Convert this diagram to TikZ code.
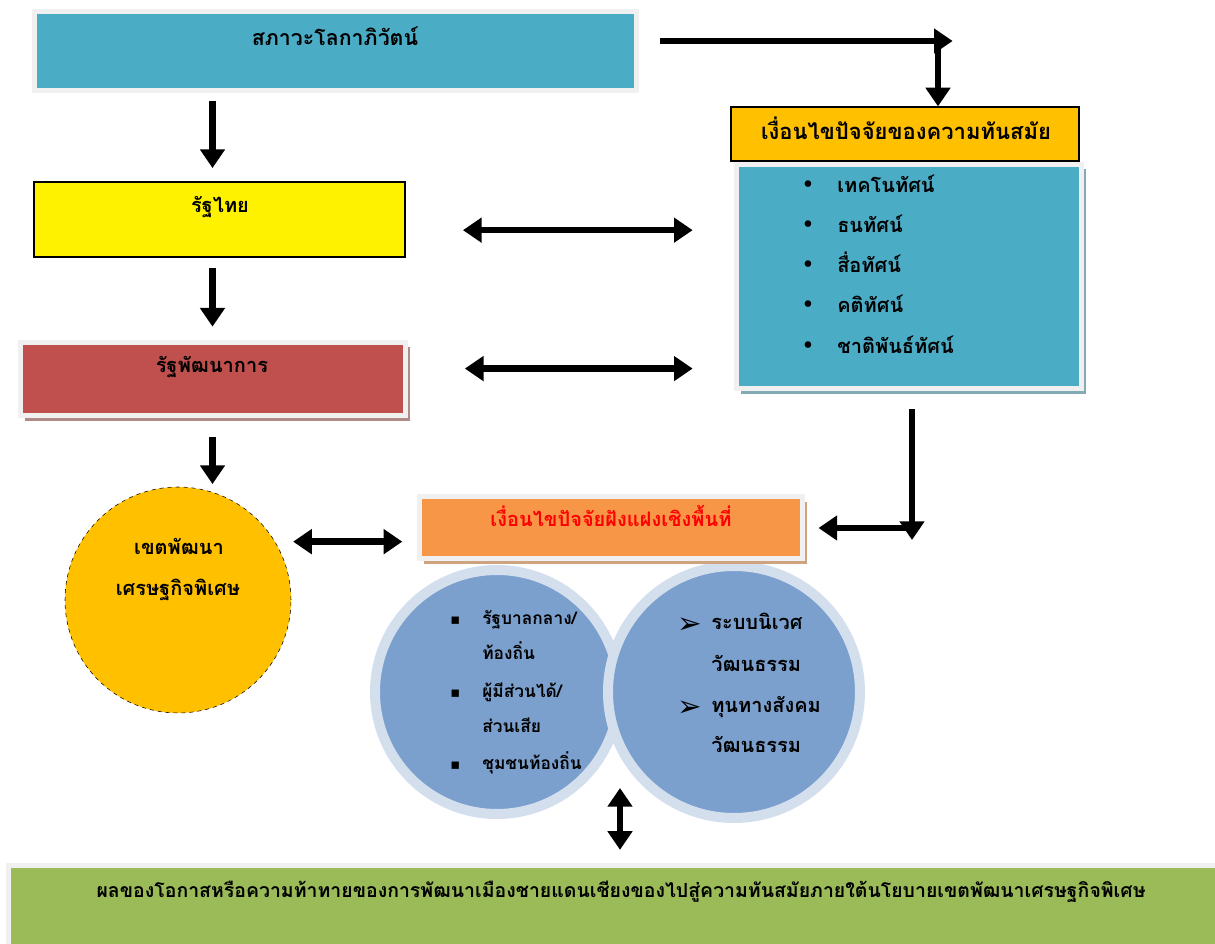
\documentclass[tikz,border=0pt]{standalone}
\usepackage{fontspec}
\setmainfont[Script=Thai]{Loma}
\newfontfamily\symfont{DejaVu Sans}
\usetikzlibrary{arrows.meta, fit, shadows}

\definecolor{skyblue}{HTML}{4BACC6}
\definecolor{gold}{HTML}{FFC000}
\definecolor{brick}{HTML}{C0504D}
\definecolor{tangerine}{HTML}{F79646}
\definecolor{olive}{HTML}{9BBB59}
\definecolor{framegray}{HTML}{F0F0F0}
\definecolor{circblue}{HTML}{7BA0CE}
\definecolor{ringblue}{HTML}{D4DFEE}

\begin{document}
\begin{tikzpicture}[x=0.75pt, y=-0.75pt,
    box/.style={rectangle, inner sep=0pt},
    frame/.style={box, draw=framegray, line width=3.75pt},
    lined/.style={box, draw=black, line width=0.9pt},
    arr/.style={-{Triangle[length=14pt,width=18pt]}, line width=5pt},
    dblarr/.style={{Triangle[length=14pt,width=18pt]}-{Triangle[length=14pt,width=18pt]}, line width=5pt},
    txt/.style={font=\bfseries\fontsize{15}{17}\selectfont, anchor=base, inner sep=0pt},
    item/.style={txt, anchor=base west},
    small/.style={font=\bfseries\fontsize{13}{15}\selectfont},
    bulletsym/.style={font=\symfont\fontsize{17}{19}\selectfont, anchor=base west, inner sep=0pt}]
    \useasboundingbox (0,0) rectangle (1215,944);

    % Global context
    \node[frame, fill=skyblue, fit={(34,11.5) (636.5,90.5)}] (world) {};
    \node[txt, font=\bfseries\fontsize{16}{18}\selectfont] (worldtxt) at (335,46) {สภาวะโลกาภิวัตน์};

    % Modernity factors
    \node[lined, fill=gold, fit={(731,107) (1079,161)}] (modern) {};
    \node[txt, font=\bfseries\fontsize{16.5}{18}\selectfont] (moderntxt) at (906,140) {เงื่อนไขปัจจัยของความทันสมัย};
    \node[frame, fill=skyblue, fit={(736.5,164.5) (1081,389)},
        drop shadow={shadow xshift=3.5pt, shadow yshift=-3.5pt, fill=gray!50!skyblue!80!white, opacity=1}] (list) {};
    \node[bulletsym] (dot1) at (801,193) {•};
    \node[bulletsym] (dot2) at (801,233) {•};
    \node[bulletsym] (dot3) at (801,273) {•};
    \node[bulletsym] (dot4) at (801,313) {•};
    \node[bulletsym] (dot5) at (801,354) {•};
    \node[item] (techno) at (837,193) {เทคโนทัศน์};
    \node[item] (wealth) at (837,233) {ธนทัศน์};
    \node[item] (media) at (837,273) {สื่อทัศน์};
    \node[item] (ideo) at (837,313) {คติทัศน์};
    \node[item] (ethno) at (837,354) {ชาติพันธ์ทัศน์};

    % State chain
    \node[lined, fill=yellow, fit={(34,182) (405,257)}] (thai) {};
    \node[txt] (thaitxt) at (220,213) {รัฐไทย};
    \node[frame, fill=brick, fit={(20,342.5) (405,416)},
        drop shadow={shadow xshift=3.5pt, shadow yshift=-3.5pt, fill=brick!40!gray!80!white, opacity=1}] (dev) {};
    \node[txt] (devtxt) at (212,373) {รัฐพัฒนาการ};
    \node[circle, draw=black, dashed, thin, fill=gold, minimum size=169.5pt, inner sep=0pt] (sez) at (178,600) {};
    \node[txt] (seztxt) at (179,555) {เขตพัฒนา};
    \node[txt] (seztxtb) at (178,596) {เศรษฐกิจพิเศษ};

    % Spatial factors
    \node[circle, draw=ringblue, line width=7.5pt, fill=circblue, minimum size=183pt, inner sep=0pt] (actors) at (497,692) {};
    \node[circle, draw=ringblue, line width=7.5pt, fill=circblue, minimum size=189pt, inner sep=0pt] (culture) at (734,692) {};
    \node[frame, fill=tangerine, fit={(419.5,497) (802,559)},
        drop shadow={shadow xshift=3.5pt, shadow yshift=-3.5pt, fill=tangerine!55!gray!80!white, opacity=1}] (spatial) {};
    \node[txt, text=red] (spatialtxt) at (611,527) {เงื่อนไขปัจจัยฝังแฝงเชิงพื้นที่};

    \node[bulletsym, font=\symfont\fontsize{11}{13}\selectfont] (sq1) at (450,625) {▪};
    \node[bulletsym, font=\symfont\fontsize{11}{13}\selectfont] (sq2) at (450,698) {▪};
    \node[bulletsym, font=\symfont\fontsize{11}{13}\selectfont] (sq3) at (450,770) {▪};
    \node[item, small] (gov) at (482,625) {รัฐบาลกลาง/};
    \node[item, small] (govb) at (482,660) {ท้องถิ่น};
    \node[item, small] (stake) at (482,698) {ผู้มีส่วนได้/};
    \node[item, small] (stakeb) at (482,733) {ส่วนเสีย};
    \node[item, small] (comm) at (482,770) {ชุมชนท้องถิ่น};

    \node[bulletsym, font=\symfont\fontsize{22}{24}\selectfont] (tip1) at (677,634) {➢};
    \node[bulletsym, font=\symfont\fontsize{22}{24}\selectfont] (tip2) at (677,717) {➢};
    \node[item] (eco) at (711,630) {ระบบนิเวศ};
    \node[item] (ecob) at (711,672) {วัฒนธรรม};
    \node[item] (capital) at (711,713) {ทุนทางสังคม};
    \node[item] (capitalb) at (711,753) {วัฒนธรรม};

    % Outcome
    \node[frame, fill=olive, fit={(8,865) (1222,950)}] (result) {};
    \node[txt, font=\bfseries\fontsize{14.6}{16}\selectfont] (resulttxt) at (621,897) {ผลของโอกาสหรือความท้าทายของการพัฒนาเมืองชายแดนเชียงของไปสู่ความทันสมัยภายใต้นโยบายเขตพัฒนาเศรษฐกิจพิเศษ};

    % Arrows
    \coordinate (bend) at (938,41);
    \coordinate (drop) at (912,540);
    \coordinate (meet) at (620,788);
    \draw[arr, shorten <=16pt] ([yshift=7.5pt]world.east) -- ([xshift=11pt]bend);
    \draw[arr, shorten <=4pt] (bend) -- (bend |- modern.north);
    \draw[arr, shorten <=6pt, shorten >=10pt] (world.south -| dev) -- (dev |- thai.north);
    \draw[arr, shorten <=7.5pt, shorten >=10pt] (thai.south -| dev) -- (dev.north);
    \draw[arr, shorten <=14pt, shorten >=2pt] (dev.south) -- (dev.south |- sez.north);
    \draw[dblarr, shorten <=43pt, shorten >=31pt] ([yshift=-8pt]thai.east) -- ([yshift=-8pt]thai.east -| list.west);
    \draw[dblarr, shorten <=43pt, shorten >=31pt] ([yshift=8pt]dev.east) -- ([yshift=8pt]dev.east -| list.west);
    \draw[dblarr, shorten <=13.5pt, shorten >=11pt] (sez.31) -- (sez.31 -| spatial.west);
    \draw[arr, shorten <=13.5pt] (list.south -| drop) -- (drop);
    \draw[arr, shorten >=10.5pt] (drop |- spatial.east) -- (spatial.east);
    \draw[dblarr, shorten >=9.5pt] (meet) -- (meet |- result.north);
\end{tikzpicture}
\end{document}
